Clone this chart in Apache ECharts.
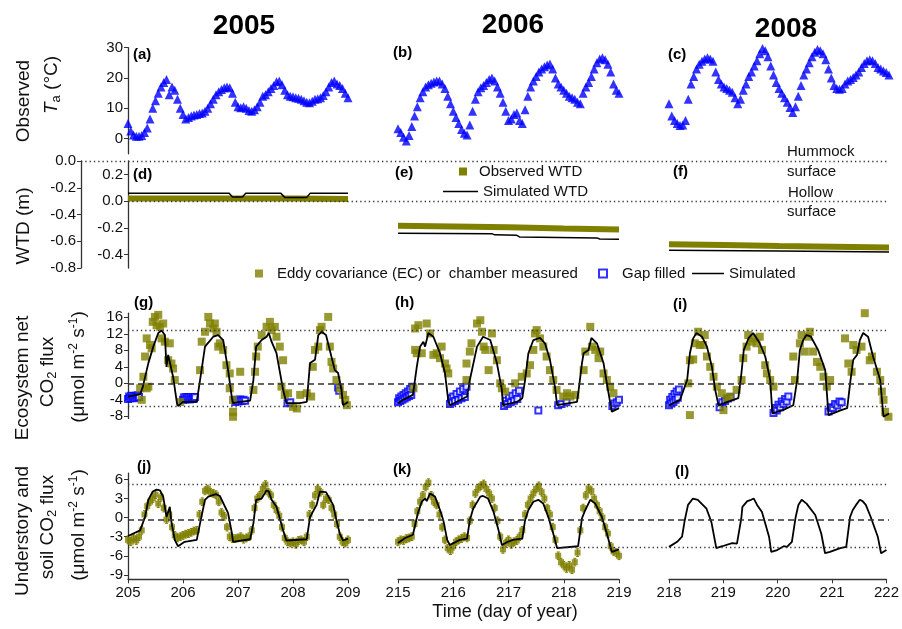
<!DOCTYPE html>
<html><head><meta charset="utf-8">
<script src="https://cdn.jsdelivr.net/npm/echarts@6/dist/echarts.min.js"></script>
<style>html,body{margin:0;padding:0;background:#fff}#c{width:902px;height:629px}</style>
</head><body><div id="c"></div>
<script>
// ---------------- DATA ----------------
const years = ['2005', '2006', '2008'];
const dayStart = [205, 215, 218];
const daySpan = 4;
const taStep = 0.05;
// Observed air temperature (°C), every 0.05 day from dayStart
const ta2005 = [5,2.5,1.2,0.8,0.8,1,2,3.5,6.5,10,
  12.5,15,17,18.5,19.5,14.5,17,16,13,10,
  8,6.5,7,7.5,7.8,8,8.3,8.5,9,10,
  11.5,13,14.5,15.5,16.2,16.8,17,16.8,15,12,
  10.5,10.2,10.5,10,9.3,9,9.5,10.5,12,14,
  14.5,15.5,16.5,17.5,18.8,19,17.8,16,14.5,14,
  13.8,13.5,13.3,13,12.5,12,11.8,12.3,13,13.2,
  13.5,14.2,15.5,17,18.5,19,18,17.5,16.5,15,
  13.5];
const ta2006 = [3.3,2,0.5,-0.8,1,4,7.5,10.5,13.5,15.5,
  17,17.8,18.3,18.7,19,19,18,16.5,14,11.5,
  9,7,5,3,1.8,1.2,4.5,9,13,15.5,
  16.8,17.5,18.5,19.5,20,19,17,15,12,9,
  6,6.5,8,8.5,6,5,9.5,14,17,19,
  20.5,22,23,23.7,24.3,24.6,23,20,18,17,
  16,15,14,13.5,13,12,11.5,15,17,18.5,
  20.5,23,25,26.3,26.7,26,24.5,22,18,16,
  15];
const ta2008 = [11.5,7.5,6,5,4.3,4.5,6,13,18,20.5,
  23,24.5,25.5,26.3,26.7,26.3,25.5,22,19.5,18,
  17,16.5,16,15.3,13.5,11.5,13,16,18,20.5,
  22,24,25.7,28,29.7,29,27,24,21,18.5,
  16.5,15,13.5,12,10.3,8.6,10.5,14,17.5,21,
  23,25,27,28.5,29.4,29,28,26,23,20,
  17.5,16.5,16.3,16.5,18,19,19.5,20.2,21,22,
  23.5,24.8,25.7,26,25.7,24.8,23.5,23,22.3,21.8,
  21];

// Water table depth (m, relative to hollow surface)
const wtdObs2005 = [[205,0.02],[206,0.02],[207,0.02],[208,0.02],[208.5,0.018],[209,0.015]];
const wtdSim2005 = [[205,0.058],[206.84,0.058],[206.9,0.03],[207.08,0.03],[207.14,0.058],[207.78,0.058],[207.85,0.028],[208.25,0.028],[208.31,0.058],[209,0.058]];
const wtdObs2006 = [[215,-0.185],[216,-0.19],[217,-0.195],[218,-0.205],[219,-0.212]];
const wtdSim2006 = [[215,-0.24],[216.7,-0.243],[216.75,-0.252],[217.15,-0.256],[217.2,-0.268],[218.6,-0.275],[218.65,-0.283],[219,-0.285]];
const wtdObs2008 = [[218,-0.322],[219,-0.328],[220,-0.335],[221,-0.341],[222,-0.347]];
const wtdSim2008 = [[218,-0.368],[220,-0.373],[222,-0.38]];
const hummockLevel = 0;   // on outer axis
const hollowLevel = 0;    // on inner axis

// Ecosystem net CO2 flux
const ec2005 = [[205.22,-1.2],[205.25,-4.0],[205.28,1.6],[205.31,6.5],[205.34,10.9],[205.34,-1.2],[205.37,-0.8],[205.4,9.3],[205.43,8.5],[205.45,14.9],[205.49,16.1],[205.52,14.1],[205.55,16.6],[205.58,13.7],[205.61,10.9],[205.64,14.5],[205.67,10.1],[205.73,5.6],[205.76,9.7],[205.79,4.8],[205.82,3.6],[205.85,0.8],[205.95,-4.5],
  [206.31,3.2],[206.34,10.1],[206.4,12.5],[206.46,16.1],[206.49,14.5],[206.55,13.3],[206.58,14.5],[206.61,12.5],[206.64,8.9],[206.67,9.7],[206.73,8.1],[206.79,4.4],[206.85,2.4],[206.85,-1.2],[206.91,-4.0],[206.91,-6.9],[206.91,-8.1],[207.04,2.8],
  [207.28,-1.6],[207.31,2.8],[207.33,6.5],[207.36,8.9],[207.43,11.7],[207.52,13.7],[207.58,14.9],[207.61,12.9],[207.67,13.7],[207.7,11.3],[207.76,8.9],[207.82,5.6],[207.79,-0.8],[207.85,-2.8],[207.91,-2.4],[208.0,-5.7],[208.07,-6.1],[208.13,-2.8],[208.25,-2.4],[208.33,-3.2],
  [208.36,4.0],[208.4,8.1],[208.46,8.9],[208.49,12.9],[208.52,13.7],[208.64,16.1],[208.67,8.9],[208.7,5.2],[208.73,3.6],[208.79,0.8],[208.85,-1.2],[208.91,-2.8],[208.95,-4.0],[208.98,-5.3]];
const ec2006 = [[215.28,-1.2],[215.31,13.3],[215.31,8.1],[215.34,7.3],[215.37,14.1],[215.43,7.3],[215.52,14.5],[215.58,12.1],[215.64,6.9],[215.7,7.3],[215.76,6.1],[215.79,8.9],[215.85,4.8],[215.88,3.6],[215.91,2.4],
  [216.24,0.8],[216.24,4.8],[216.3,7.7],[216.33,9.7],[216.43,14.5],[216.49,15.3],[216.52,12.5],[216.55,8.9],[216.58,8.1],[216.64,3.2],[216.7,12.1],[216.73,8.1],[216.79,5.6],[216.85,0],[216.88,-1.2],[216.94,-2],
  [217.12,0],[217.24,1.6],[217.33,2.4],[217.39,4.4],[217.45,8.1],[217.48,12.1],[217.51,12.9],[217.57,10.9],[217.63,8.9],[217.69,6.5],[217.75,3.2],[217.81,0.8],[217.87,-1.6],[217.99,-3.2],[218.06,-2.4],[218.12,-3.2],[218.21,-2.8],
  [218.36,3.2],[218.39,7.7],[218.48,13.7],[218.51,8.9],[218.57,8.1],[218.63,6.1],[218.66,7.7],[218.72,2.4],[218.78,0.8],[218.84,-0.8],[218.9,-2.4]];
const ec2008 = [[218.35,0],[218.38,5.6],[218.38,-7.7],[218.44,5.8],[218.47,9.7],[218.53,12.5],[218.56,9.3],[218.62,9.3],[218.65,11.7],[218.69,6.5],[218.75,4],[218.81,1.6],[218.87,-0.8],[218.96,-2.4],[218.99,-6.5],[219.05,-3.6],[219.11,-3.2],
  [219.23,-1.6],[219.32,0.8],[219.35,6.1],[219.41,8.9],[219.44,11.7],[219.5,10.1],[219.53,10.9],[219.59,9.7],[219.65,11.3],[219.69,8.1],[219.75,4.4],[219.78,2.4],[219.84,0.8],[219.9,-0.8],
  [220.26,6.5],[220.29,0.8],[220.32,-8.9],[220.38,9.7],[220.41,11.7],[220.47,7.7],[220.53,11.3],[220.56,12.5],[220.62,7.7],[220.69,5.2],[220.75,4],[220.81,1.6],[220.87,-0.8],[220.93,0.8],
  [221.2,10.9],[221.26,4.8],[221.32,2.8],[221.35,9.3],[221.41,8.1],[221.5,8.9],[221.56,17],[221.65,5.6],[221.69,6.5],[221.78,2.8],[221.84,0.8],[221.87,-2],[221.9,-4],[221.93,-6.9],[221.99,-8.1]];
const gap2005 = [[205.00,-3.8],[205.02,-3.2],[205.04,-3.6],[205.06,-3.0],[205.08,-3.5],[205.10,-3.1],[205.12,-3.6],[205.14,-3.0],[205.16,-3.4],[205.18,-2.9],[205.20,-3.3],
  [206.00,-4.0],[206.02,-3.4],[206.04,-3.9],[206.06,-3.3],[206.08,-3.8],[206.10,-3.4],[206.12,-3.9],[206.14,-3.3],[206.16,-3.8],[206.18,-3.4],[206.20,-3.7],[206.22,-3.3],
  [206.95,-4.5],[206.98,-4.0],[207.01,-4.4],[207.04,-3.9],[207.07,-4.3],[207.10,-4.0],[207.13,-4.2],[207.9,-4.8],[207.95,-4.6],[208.82,-1.0],[208.84,-1.8]];
const gap2006 = [[215.00,-4.6],[215.02,-3.6],[215.04,-4.3],[215.06,-3.2],[215.08,-4.0],[215.10,-2.8],[215.12,-3.7],[215.14,-2.4],[215.16,-3.4],[215.18,-2.0],[215.20,-3.1],[215.22,-1.4],[215.24,-2.8],[215.26,-0.8],
  [215.94,-5.0],[215.96,-3.6],[215.98,-4.6],[216.00,-3.2],[216.03,-4.3],[216.06,-2.6],[216.09,-4.0],[216.12,-2.0],[216.15,-3.6],[216.18,-1.4],[216.21,-3.3],[216.24,-0.8],
  [216.92,-5.5],[216.95,-4.2],[216.98,-5.0],[217.01,-3.5],[217.04,-4.6],[217.07,-3.0],[217.10,-4.2],[217.13,-2.4],[217.16,-3.8],[217.19,-1.8],
  [217.54,-6.6],[217.9,-5.3],[217.96,-5.0],[218.05,-4.6],[218.88,-5.5],[218.92,-4.9],[218.96,-4.6],[219.0,-4.0]];
const gap2008 = [[218.00,-5.3],[218.02,-4.0],[218.04,-4.9],[218.06,-3.3],[218.08,-4.5],[218.10,-2.6],[218.12,-4.0],[218.14,-2.0],[218.16,-3.5],[218.18,-1.5],
  [218.92,-5.8],[218.97,-4.6],[219.02,-4.3],[219.07,-3.7],[219.12,-3.4],
  [219.90,-7.2],[219.93,-6.0],[219.96,-6.6],[219.99,-5.2],[220.02,-5.8],[220.05,-4.4],[220.08,-5.0],[220.11,-3.8],[220.14,-4.4],[220.17,-3.2],
  [220.90,-6.8],[220.94,-5.8],[220.98,-6.0],[221.02,-5.0],[221.06,-5.4],[221.10,-4.4],[221.14,-4.6]];
const neeSim2005 = [[205,-3.2],[205.22,-2.7],[205.27,-0.8],[205.37,4.9],[205.46,8.9],[205.55,12.2],[205.61,12.8],[205.67,11.7],[205.70,4.0],[205.73,6.9],[205.76,6.5],[205.82,1.6],[205.89,-4.8],[205.91,-5.5],[206.0,-4.5],[206.25,-4.5],[206.31,0.8],[206.4,8.9],[206.55,11.3],[206.64,11.7],[206.73,10.5],[206.82,3.2],[206.89,-3.6],[206.91,-4.8],[207.04,-4.5],[207.22,-4.2],[207.28,0.8],[207.33,8.9],[207.43,10.5],[207.52,11.3],[207.56,12.2],[207.61,10.1],[207.7,7.3],[207.82,-1.6],[207.88,-4.8],[208.12,-4.8],[208.25,-4.5],[208.31,4.9],[208.33,4.6],[208.4,5.7],[208.46,11.7],[208.52,12.5],[208.6,11.7],[208.76,3.2],[208.82,2.5],[208.88,-1.6],[208.91,-5.3],[209,-4.5]];
const neeSim2006 = [[215,-4.8],[215.09,-4],[215.27,-2.8],[215.34,4],[215.4,8.9],[215.46,10.1],[215.49,8.9],[215.55,12.2],[215.64,11.3],[215.76,7.3],[215.85,2.5],[215.91,-4.2],[215.94,-5.3],[216.25,-3.2],[216.3,0.8],[216.43,8.9],[216.54,11.3],[216.67,10.5],[216.79,4.9],[216.88,-1.6],[216.9,-5.3],[217.15,-4.5],[217.25,-3.6],[217.3,0.8],[217.36,7.3],[217.45,10.5],[217.57,11],[217.66,9.7],[217.75,5.7],[217.84,-0.8],[217.88,-5.3],[218.24,-4.5],[218.27,-1.6],[218.33,4.9],[218.36,7.3],[218.45,8.1],[218.5,11],[218.6,9.7],[218.72,4.9],[218.8,-1.6],[218.87,-6.9],[219,-6]];
const neeSim2008 = [[218,-5.3],[218.2,-4],[218.33,0.8],[218.38,7.3],[218.44,10.9],[218.5,12.2],[218.6,11.3],[218.69,8.9],[218.78,4],[218.84,-1.6],[218.9,-5.3],[219.17,-4],[219.26,-3.6],[219.31,1.6],[219.36,8.1],[219.45,11],[219.53,12.2],[219.65,9.7],[219.75,6.5],[219.84,0.8],[219.88,-7.3],[220.07,-6.5],[220.26,-5.3],[220.33,0.8],[220.38,8.1],[220.44,10.5],[220.5,11.7],[220.58,11.3],[220.71,8.1],[220.84,3.2],[220.9,-7.7],[221.13,-6.5],[221.24,-6],[221.3,0.8],[221.35,5.7],[221.42,6.9],[221.47,10.5],[221.53,12.2],[221.62,11.3],[221.71,6.5],[221.84,0.8],[221.9,-8.1],[222,-7.3]];
const neeRefDotted = [12.8, -5.5];
const neeRefDashed = 0;

// Understory and soil CO2 flux (observed every 0.05 day from dayStart)
const soilStep = 0.05;
const soilErr = 0.6;
const soilObs2005 = [-3.5,-3.8,-3.2,-3.6,-3.0,-2.0,0.5,1.8,2.5,3.0,
  3.6,2.2,3.2,1.5,-0.3,0.5,-1.5,-2.8,-3.2,-3.0,
  -2.8,-2.6,-2.5,-2.3,-2.1,-2.0,0.5,2.5,4.2,4.5,
  4.0,3.8,3.6,2.5,0.8,0.2,-1.5,-3.0,-3.3,-3.3,
  -3.2,-3.0,-3.4,-3.2,-3.0,-2.0,1.5,3.0,3.5,4.5,
  5.2,4.0,3.5,2.0,1.2,0.3,-1.5,-3.2,-3.8,-4.0,
  -3.8,-4.2,-3.6,-3.5,-3.8,-3.0,0.5,2.0,3.5,4.5,
  4.0,2.0,3.0,2.8,1.5,0.5,-1.0,-3.0,-3.8,-4.0,
  -3.5];
const soilObs2006 = [-3.8,-3.5,-3.6,-3.3,-3.2,-3.0,-1.0,1.0,2.5,3.5,
  4.8,5.5,3.5,2.5,2.0,0.5,-1.5,-3.5,-4.8,-5.2,
  -4.5,-3.8,-3.5,-3.3,-3.0,-3.2,-0.5,2.0,3.8,4.6,
  5.0,5.3,4.5,3.8,3.0,1.5,-0.5,-3.0,-5.0,-4.0,
  -3.5,-4.2,-3.8,-3.6,-3.0,-2.0,0.5,2.0,3.0,3.8,
  4.5,5.0,4.0,3.0,1.5,0.5,-1.5,-3.5,-6.0,-7.0,
  -7.5,-8.0,-7.5,-8.2,-7.0,-5.5,-2.0,1.5,3.5,4.6,
  4.2,3.0,2.0,1.0,0.0,-1.5,-2.5,-4.5,-5.3,-5.5,
  -6.0];
const soilObs2008 = [];
const soilSim2005 = [[205,-2.9],[205.22,-2],[205.31,0.1],[205.37,2.8],[205.45,4.1],[205.52,4.4],[205.58,4.3],[205.64,3.3],[205.7,0.1],[205.73,0.9],[205.76,1.7],[205.79,-0.7],[205.85,-3.5],[205.91,-4.5],[206.03,-3.8],[206.25,-3.5],[206.31,-0.9],[206.4,2.8],[206.46,3.3],[206.6,3.7],[206.67,3.4],[206.82,0.7],[206.89,-2.5],[206.91,-3.8],[207.22,-3.4],[207.28,-0.9],[207.33,2.8],[207.43,3],[207.52,4.3],[207.56,4.1],[207.61,2.8],[207.7,1.7],[207.82,-2],[207.88,-3.6],[208.25,-3.4],[208.31,0.1],[208.36,0.9],[208.43,2],[208.49,4.1],[208.6,4],[208.73,2],[208.79,-0.4],[208.85,-2.5],[208.91,-3.6],[209,-3.3]];
const soilSim2006 = [[215,-4],[215.13,-3.2],[215.27,-2.7],[215.36,0.7],[215.43,2.5],[215.49,3],[215.52,2.6],[215.58,3.8],[215.67,3.3],[215.76,1.2],[215.82,-0.4],[215.89,-3.5],[215.94,-4.3],[216.12,-3.5],[216.25,-3.3],[216.3,-0.4],[216.36,1.4],[216.49,3.3],[216.54,3.4],[216.63,3],[216.73,0.9],[216.82,-2],[216.88,-4.3],[216.99,-3.8],[217.08,-3.5],[217.25,-3.3],[217.3,-0.4],[217.36,1.2],[217.45,2.5],[217.54,2.8],[217.63,2.2],[217.72,0.1],[217.81,-2.5],[217.88,-4.8],[218.26,-4.5],[218.33,-0.1],[218.39,1.2],[218.48,2.8],[218.57,2.2],[218.69,0.1],[218.78,-2.5],[218.87,-5.4],[219,-5]];
const soilSim2008 = [[218,-4.6],[218.15,-3.8],[218.24,-3],[218.29,-0.4],[218.35,2],[218.44,3],[218.53,2.8],[218.69,1.4],[218.78,-0.7],[218.87,-4.8],[218.98,-4.5],[219.16,-4],[219.25,-4.1],[219.33,-0.1],[219.35,1.7],[219.44,2.6],[219.51,2.8],[219.56,3],[219.62,2],[219.71,0.9],[219.84,-3],[219.88,-5.4],[219.99,-5.1],[220.11,-4.5],[220.17,-4.6],[220.26,-3.8],[220.33,0.1],[220.38,2],[220.44,2.8],[220.53,2.2],[220.69,0.4],[220.8,-2.5],[220.87,-5.6],[220.96,-5.4],[221.15,-4.8],[221.26,-4.6],[221.33,0.1],[221.38,1.2],[221.44,2],[221.51,2.8],[221.56,2.6],[221.62,2],[221.71,0.1],[221.84,-3],[221.9,-5.6],[222,-5.1]];
const soilRefDotted = [5.2, -4.6];
const soilRefDashed = -0.4;

// Tick labels
const taTicks = [0, 10, 20, 30];
const wtdInnerTicks = [0.2, 0, -0.2, -0.4];
const wtdOuterTicks = [0, -0.2, -0.4, -0.6, -0.8];
const neeTicks = [-8, -4, 0, 4, 8, 12, 16];
const soilTicks = [-9, -6, -3, 0, 3, 6];

const names = {
  wtdObs: 'Observed WTD', wtdSim: 'Simulated WTD',
  ec: 'Eddy covariance (EC) or  chamber measured', gap: 'Gap filled', sim: 'Simulated'
};

// ---------------- LAYOUT / STYLE ----------------
const FONT = 'Liberation Sans, Arial, Helvetica, sans-serif';
const OLIVE = '#808000', BLUE = '#0000ff', AX = '#333';
const COLX = [[128, 348], [398, 619], [669, 889]];
const ROWY = [[47.7, 153.8], [161, 268], [313.2, 418.4], [473.1, 579.3]];
const YRANGE = [[-5, 30], [-0.5, 0.3], [-8.5, 17], [-9.7, 7]];
const YTICKS = [taTicks, wtdInnerTicks, neeTicks, soilTicks];

const grid = [], xAxis = [], yAxis = [], series = [];
const lbl = {fontFamily: FONT, fontSize: 15, color: '#111'};
function fmt(r){ return r === 1 ? (v => (+v).toFixed(1)) : (v => String(v)); }

for (let r = 0; r < 4; r++) {
  for (let c = 0; c < 3; c++) {
    const gi = grid.length;
    grid.push({left: COLX[c][0], width: COLX[c][1] - COLX[c][0], top: ROWY[r][0], height: ROWY[r][1] - ROWY[r][0]});
    xAxis.push({gridIndex: gi, type: 'value', min: dayStart[c], max: dayStart[c] + daySpan, interval: 1,
      show: r === 3,
      axisLine: {onZero: false, lineStyle: {color: AX, width: 1.3}},
      axisTick: {length: 4, lineStyle: {color: AX}},
      axisLabel: Object.assign({margin: 6}, lbl),
      splitLine: {show: false}});
    yAxis.push({gridIndex: gi, type: 'value', min: YRANGE[r][0], max: YRANGE[r][1],
      show: c === 0,
      axisLine: {show: true, onZero: false, lineStyle: {color: AX, width: 1.3}},
      axisTick: {show: true, length: 4, customValues: YTICKS[r], lineStyle: {color: AX}},
      axisLabel: Object.assign({margin: 5, customValues: YTICKS[r], formatter: fmt(r)}, lbl),
      splitLine: {show: false}});
  }
}
// background grids spanning full rows (for reference lines and outer WTD axis)
function bgGrid(left, r, ymin, ymax, showY, ticks){
  const gi = grid.length;
  grid.push({left: left, width: 889 - left, top: ROWY[r][0], height: ROWY[r][1] - ROWY[r][0]});
  xAxis.push({gridIndex: gi, type: 'value', min: 0, max: 1, show: false, axisLine: {onZero: false}});
  yAxis.push({gridIndex: gi, type: 'value', min: ymin, max: ymax, show: showY,
    axisLine: {show: true, onZero: false, lineStyle: {color: AX, width: 1.3}},
    axisTick: {show: true, length: 4, customValues: ticks || [], lineStyle: {color: AX}},
    axisLabel: Object.assign({margin: 5, customValues: ticks || [], formatter: fmt(1)}, lbl),
    splitLine: {show: false}});
  return gi;
}
const gOuter = bgGrid(81, 1, -0.8, 0, true, wtdOuterTicks);
const gHollow = bgGrid(128, 1, -0.5, 0.3, false);
const gNee = bgGrid(128, 2, YRANGE[2][0], YRANGE[2][1], false);
const gSoil = bgGrid(128, 3, YRANGE[3][0], YRANGE[3][1], false);

const dotted = {type: [1.3, 3], color: '#333', width: 1.3};
const dashed = {type: [6, 4], color: '#333', width: 1.5};
function refLines(gi, list){
  series.push({type: 'line', xAxisIndex: gi, yAxisIndex: gi, data: [], silent: true,
    markLine: {silent: true, symbol: ['none', 'none'], label: {show: false}, animation: false,
      data: list.map(o => ({yAxis: o.v, lineStyle: o.s}))}});
}
refLines(gOuter, [{v: hummockLevel, s: dotted}]);
refLines(gHollow, [{v: hollowLevel, s: dotted}]);
refLines(gNee, [{v: neeRefDotted[0], s: dotted}, {v: neeRefDotted[1], s: dotted}, {v: neeRefDashed, s: dashed}]);
refLines(gSoil, [{v: soilRefDotted[0], s: dotted}, {v: soilRefDotted[1], s: dotted}, {v: soilRefDashed, s: dashed}]);

// Row 1: air temperature
[ta2005, ta2006, ta2008].forEach((arr, c) => {
  series.push({type: 'scatter', xAxisIndex: c, yAxisIndex: c, symbol: 'triangle', symbolSize: 9,
    itemStyle: {color: BLUE}, data: arr.map((v, i) => [dayStart[c] + i * taStep, v])});
});
// Row 2: WTD
[[wtdObs2005, wtdSim2005], [wtdObs2006, wtdSim2006], [wtdObs2008, wtdSim2008]].forEach((p, c) => {
  const gi = 3 + c;
  series.push({type: 'line', name: names.wtdObs, xAxisIndex: gi, yAxisIndex: gi, data: p[0], symbol: 'none',
    lineStyle: {color: OLIVE, width: 6}, itemStyle: {color: OLIVE}});
  series.push({type: 'line', name: names.wtdSim, xAxisIndex: gi, yAxisIndex: gi, data: p[1], symbol: 'none',
    lineStyle: {color: '#000', width: 1.5}, itemStyle: {color: '#000'}, z: 3});
});
// Row 3: NEE
[[ec2005, gap2005, neeSim2005], [ec2006, gap2006, neeSim2006], [ec2008, gap2008, neeSim2008]].forEach((p, c) => {
  const gi = 6 + c;
  series.push({type: 'scatter', name: names.gap, xAxisIndex: gi, yAxisIndex: gi, data: p[1], symbol: 'emptyRect', symbolSize: 6,
    itemStyle: {color: BLUE, borderColor: BLUE, borderWidth: 1}});
  series.push({type: 'scatter', name: names.ec, xAxisIndex: gi, yAxisIndex: gi, data: p[0], symbol: 'rect', symbolSize: 8,
    itemStyle: {color: OLIVE}});
  series.push({type: 'line', name: names.sim, xAxisIndex: gi, yAxisIndex: gi, data: p[2], symbol: 'none',
    lineStyle: {color: '#000', width: 1.8}, itemStyle: {color: '#000'}, z: 4});
});
// Row 4: understory & soil
[[soilObs2005, soilSim2005], [soilObs2006, soilSim2006], [soilObs2008, soilSim2008]].forEach((p, c) => {
  const gi = 9 + c;
  const pts = p[0].map((v, i) => [dayStart[c] + i * soilStep, v]);
  if (pts.length) {
    series.push({type: 'custom', xAxisIndex: gi, yAxisIndex: gi, data: pts, silent: true,
      renderItem: function(params, api){
        const x = api.value(0), y = api.value(1);
        const a = api.coord([x, y + soilErr]), b = api.coord([x, y - soilErr]);
        const st = {stroke: OLIVE, lineWidth: 1};
        return {type: 'group', children: [
          {type: 'line', shape: {x1: a[0], y1: a[1], x2: b[0], y2: b[1]}, style: st},
          {type: 'line', shape: {x1: a[0] - 1.5, y1: a[1], x2: a[0] + 1.5, y2: a[1]}, style: st},
          {type: 'line', shape: {x1: b[0] - 1.5, y1: b[1], x2: b[0] + 1.5, y2: b[1]}, style: st}]};
      }});
    series.push({type: 'scatter', name: names.ec, xAxisIndex: gi, yAxisIndex: gi, data: pts, symbol: 'rect', symbolSize: 6,
      itemStyle: {color: OLIVE}});
  }
  series.push({type: 'line', name: names.sim, xAxisIndex: gi, yAxisIndex: gi, data: p[1], symbol: 'none',
    lineStyle: {color: '#000', width: 1.8}, itemStyle: {color: '#000'}, z: 4});
});

// ---------------- TEXT ----------------
const txt = (x, y, text, o) => Object.assign({type: 'text', x: x, y: y, silent: true,
  style: Object.assign({text: text, fontFamily: FONT, fontSize: 15, fill: '#111', align: 'left', verticalAlign: 'middle'}, o || {})});
const rot = Math.PI / 2;
const rich = {
  i: {fontFamily: FONT, fontSize: 19, fontStyle: 'italic', fill: '#111', lineHeight: 22},
  sb: {fontFamily: FONT, fontSize: 13, fill: '#111', lineHeight: 13, verticalAlign: 'bottom'},
  sp: {fontFamily: FONT, fontSize: 12, fill: '#111', lineHeight: 12, verticalAlign: 'top'}
};
const yt = (x, y, text) => Object.assign(txt(x, y, text, {fontSize: 19, align: 'center', lineHeight: 22, rich: rich}), {rotation: rot});
const graphic = [
  txt(244, 26, years[0], {fontSize: 28, fontWeight: 'bold', align: 'center', fill: '#000'}),
  txt(513, 25, years[1], {fontSize: 28, fontWeight: 'bold', align: 'center', fill: '#000'}),
  txt(786, 29, years[2], {fontSize: 28, fontWeight: 'bold', align: 'center', fill: '#000'}),
  yt(24, 101, 'Observed'),
  yt(52, 85, '{i|T}{sb|a} (°C)'),
  yt(24, 226, 'WTD (m)'),
  yt(23, 378, 'Ecosystem net'),
  yt(48, 372, 'CO{sb|2} flux'),
  yt(79, 367, '(μmol m{sp|-2} s{sp|-1})'),
  yt(23, 531, 'Understory and'),
  yt(48, 527, 'soil CO{sb|2} flux'),
  yt(79, 525, '(μmol m{sp|-2} s{sp|-1})'),
  txt(505, 612, 'Time (day of year)', {fontSize: 18, align: 'center'}),
  txt(787, 152, 'Hummock'), txt(787, 172, 'surface'),
  txt(788, 193, 'Hollow'), txt(787, 212, 'surface')
];
const panelLabels = [['(a)',133,55],['(b)',393,53],['(c)',668,55],['(d)',133,175],['(e)',395,173],['(f)',673,172],
  ['(g)',134,303],['(h)',395,303],['(i)',673,305],['(j)',137,467],['(k)',393,470],['(l)',675,472]];
panelLabels.forEach(p => graphic.push(txt(p[1], p[2], p[0], {fontWeight: 'bold', fill: '#000'})));

const legendBase = {selectedMode: false, orient: 'horizontal', padding: 0, itemGap: 0,
  textStyle: {fontFamily: FONT, fontSize: 15, color: '#111'}};
const legend = [
  Object.assign({}, legendBase, {left: 459, top: 164, itemWidth: 8, itemHeight: 8,
    data: [{name: names.wtdObs, icon: 'rect'}], textStyle: Object.assign({}, legendBase.textStyle, {padding: [0, 0, 0, 7]})}),
  Object.assign({}, legendBase, {left: 443, top: 184, itemWidth: 35, itemHeight: 1.5, data: [{name: names.wtdSim, icon: 'rect'}]}),
  Object.assign({}, legendBase, {left: 255, top: 266, itemWidth: 8, itemHeight: 8,
    data: [{name: names.ec, icon: 'rect'}], textStyle: Object.assign({}, legendBase.textStyle, {padding: [0, 0, 0, 9]})}),
  Object.assign({}, legendBase, {left: 598, top: 266, itemWidth: 8, itemHeight: 8,
    data: [names.gap], textStyle: Object.assign({}, legendBase.textStyle, {padding: [0, 0, 0, 10]})}),
  Object.assign({}, legendBase, {left: 692, top: 266, itemWidth: 32, itemHeight: 1.5, data: [{name: names.sim, icon: 'rect'}]})
];

const chart = echarts.init(document.getElementById('c'), null, {renderer: 'canvas'});
chart.setOption({animation: false, backgroundColor: '#fff', grid, xAxis, yAxis, series, legend, graphic});
</script></body></html>
